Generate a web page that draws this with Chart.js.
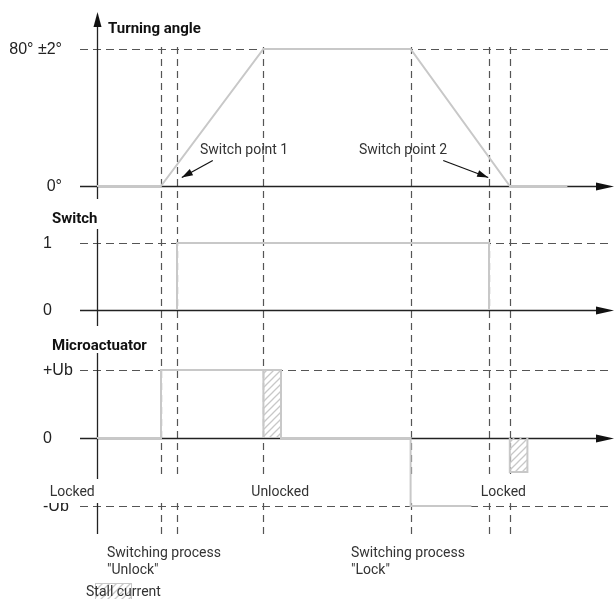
<!DOCTYPE html>
<html lang="en">
<head>
    <meta charset="UTF-8">
    <title>Turning angle / Switch / Microactuator timing</title>
    <script src="https://cdn.jsdelivr.net/npm/chart.js"></script>
    <style>
        body {
            margin: 0;
            background: #fff;
        }
        .container {
            width: 616px;
            height: 599px;
        }
    </style>
</head>
<body>

<div class="container">
    <canvas id="myChart"></canvas>
</div>

<script>
    // time axis (arbitrary units), dashed event lines
    const eventTimes = [4, 5, 10.4, 19.6, 24.5, 25.8];

    // Turning angle in degrees
    const angleTime = [0, 4, 10.4, 19.6, 25.8, 29.4];
    const angleDeg = [0, 0, 80, 80, 0, 0];
    const angleTicks = [0, 80];
    const angleTickLabels = ['0°', '80° ±2°'];

    // Switch state
    const switchTime = [5, 5, 24.5, 24.5];
    const switchState = [0, 1, 1, 0];
    const switchTicks = [0, 1];
    const switchTickLabels = ['0', '1'];

    // Microactuator voltage (in Ub)
    const actuatorTime = [0, 4, 4, 11.5, 11.5, 19.6, 19.6, 23.4];
    const actuatorVolt = [0, 0, 1, 1, 0, 0, -1, -1];
    const actuatorTicks = [-1, 0, 1];
    const actuatorTickLabels = ['-Ub', '0', '+Ub'];

    // stall current blocks
    const stallStart = [10.4, 25.8];
    const stallEnd = [11.5, 26.9];
    const stallLevel = [1, -0.5];

    const panelTitles = ['Turning angle', 'Switch', 'Microactuator'];
    const stateLabels = ['Locked', 'Unlocked', 'Locked'];
    const stateTimes = [-1.55, 11.45, 25.4];

    const H = 599;
    const W = 616;
    const SIGNAL = '#c8c8c8';
    const DASH = '#555';

    // maps two value/pixel pairs onto a full-height linear scale
    function fit(v0, p0, v1, p1) {
        const k = (p0 - p1) / (v1 - v0);
        const max = v1 + p1 / k;
        return { min: max - H / k, max: max };
    }

    function pts(xs, ys) {
        return xs.map((x, i) => ({ x: x, y: ys[i] }));
    }

    function hatchPattern() {
        const c = document.createElement('canvas');
        c.width = 7; c.height = 7;
        const g = c.getContext('2d');
        g.strokeStyle = SIGNAL;
        g.lineWidth = 1.3;
        g.beginPath();
        g.moveTo(-1, 8); g.lineTo(8, -1);
        g.moveTo(-1, 1); g.lineTo(1, -1);
        g.moveTo(6, 8); g.lineTo(8, 6);
        g.stroke();
        return g.createPattern(c, 'repeat');
    }
    const hatch = hatchPattern();

    function arrowHead(ctx, x, y, angle, len, half) {
        ctx.save();
        ctx.translate(x, y);
        ctx.rotate(angle);
        ctx.beginPath();
        ctx.moveTo(0, 0);
        ctx.lineTo(-len, -half);
        ctx.lineTo(-len, half);
        ctx.closePath();
        ctx.fill();
        ctx.restore();
    }

    function pointer(ctx, x0, y0, x1, y1) {
        ctx.beginPath();
        ctx.moveTo(x0, y0);
        ctx.lineTo(x1, y1);
        ctx.stroke();
        arrowHead(ctx, x1, y1, Math.atan2(y1 - y0, x1 - x0), 11, 3.5);
    }

    const diagram = {
        id: 'diagram',
        beforeDatasetsDraw(chart) {
            const ctx = chart.ctx;
            const s = chart.scales;
            const x0 = s.x.getPixelForValue(0);
            const left = x0 - 17;
            const right = W - 8;
            const tip = W - 2;
            const panels = [
                { sc: s.yA, ticks: angleTicks, labels: angleTickLabels, align: 'right', lx: 62 },
                { sc: s.yS, ticks: switchTicks, labels: switchTickLabels, align: 'left', lx: 43 },
                { sc: s.yM, ticks: actuatorTicks, labels: actuatorTickLabels, align: 'left', lx: 43 }
            ];
            ctx.save();

            // dashed reference levels
            ctx.strokeStyle = DASH;
            ctx.lineWidth = 1.2;
            ctx.setLineDash([8, 5]);
            panels.forEach(p => {
                p.ticks.forEach(v => {
                    if (v === 0) return;
                    const y = Math.round(p.sc.getPixelForValue(v)) + 0.5;
                    ctx.beginPath();
                    ctx.moveTo(left, y);
                    ctx.lineTo(right, y);
                    ctx.stroke();
                });
            });

            // dashed event lines
            const top = s.yA.getPixelForValue(80) - 2;
            const bottom = s.yM.getPixelForValue(-1) + 31;
            ctx.setLineDash([7, 5]);
            eventTimes.forEach(t => {
                const x = Math.round(s.x.getPixelForValue(t)) + 0.5;
                ctx.beginPath();
                ctx.moveTo(x, top);
                ctx.lineTo(x, bottom);
                ctx.stroke();
            });
            ctx.setLineDash([]);

            // axes
            ctx.strokeStyle = '#222';
            ctx.fillStyle = '#111';
            ctx.lineWidth = 1.3;
            panels.forEach(p => {
                const y = Math.round(p.sc.getPixelForValue(0)) + 0.5;
                ctx.beginPath();
                ctx.moveTo(left, y);
                ctx.lineTo(tip - 10, y);
                ctx.stroke();
                arrowHead(ctx, tip, y, 0, 18, 4);
            });
            const ax = Math.round(x0) + 0.5;
            ctx.beginPath();
            ctx.moveTo(ax, 24);
            ctx.lineTo(ax, bottom - 3);
            ctx.stroke();
            arrowHead(ctx, ax, 12, -Math.PI / 2, 15, 4);

            // tick labels
            ctx.fillStyle = '#222';
            ctx.font = '16px "Liberation Sans", Arial, sans-serif';
            ctx.textBaseline = 'middle';
            panels.forEach(p => {
                ctx.textAlign = p.align;
                p.ticks.forEach((v, i) => {
                    ctx.fillText(p.labels[i], p.lx, p.sc.getPixelForValue(v) + 1);
                });
            });

            // white cut-outs under titles and state band
            ctx.fillStyle = '#fff';
            ctx.fillRect(45, s.yA.getPixelForValue(0) + 13, 60, 30);
            ctx.fillRect(45, s.yS.getPixelForValue(0) + 16, 108, 27);
            ctx.fillRect(0, s.yM.getPixelForValue(-1) - 27, W, 24);

            // panel titles
            ctx.fillStyle = '#111';
            ctx.font = 'bold 15px Roboto, sans-serif';
            ctx.textAlign = 'left';
            ctx.fillText(panelTitles[0], 108, 29);
            ctx.fillText(panelTitles[1], 52, 219);
            ctx.fillText(panelTitles[2], 52, 346);

            // lock state labels
            ctx.fillStyle = '#333';
            ctx.font = '14px Roboto, sans-serif';
            ctx.textAlign = 'center';
            const ly = s.yM.getPixelForValue(-1) - 14;
            stateLabels.forEach((txt, i) => {
                ctx.fillText(txt, s.x.getPixelForValue(stateTimes[i]), ly);
            });
            ctx.restore();
        },
        afterDatasetsDraw(chart) {
            const ctx = chart.ctx;
            const s = chart.scales;
            ctx.save();
            ctx.strokeStyle = '#111';
            ctx.fillStyle = '#111';
            ctx.lineWidth = 1.2;

            // switch point pointers
            const p1x = s.x.getPixelForValue(5.3), p1y = s.yA.getPixelForValue(5);
            const p2x = s.x.getPixelForValue(24.45), p2y = s.yA.getPixelForValue(5);
            pointer(ctx, p1x + 31, p1y - 17, p1x, p1y);
            pointer(ctx, p2x - 45, p2y - 17, p2x, p2y);

            ctx.fillStyle = '#333';
            ctx.font = '14px Roboto, sans-serif';
            ctx.textBaseline = 'middle';
            ctx.textAlign = 'left';
            ctx.fillText('Switch point 1', 200, 150);
            ctx.fillText('Switch point 2', 359, 150);

            // switching processes
            ctx.fillText('Switching process', 107, 553);
            ctx.fillText('"Unlock"', 107, 570);
            ctx.fillText('Switching process', 351, 553);
            ctx.fillText('"Lock"', 351, 570);

            // stall current key
            ctx.fillStyle = hatch;
            ctx.fillRect(95, 583, 37, 17);
            ctx.strokeStyle = SIGNAL;
            ctx.lineWidth = 1;
            ctx.strokeRect(95.5, 583.5, 36, 17);
            ctx.fillStyle = '#333';
            ctx.fillText('Stall current', 86, 592);
            ctx.restore();
        }
    };

    const signal = {
        showLine: true,
        borderColor: SIGNAL,
        borderWidth: 2,
        pointRadius: 0,
        tension: 0,
        fill: false
    };

    const datasets = [
        Object.assign({ label: 'Turning angle', data: pts(angleTime, angleDeg), yAxisID: 'yA' }, signal),
        Object.assign({ label: 'Switch', data: pts(switchTime, switchState), yAxisID: 'yS' }, signal),
        Object.assign({ label: 'Microactuator', data: pts(actuatorTime, actuatorVolt), yAxisID: 'yM' }, signal)
    ];
    stallStart.forEach((t0, i) => {
        const t1 = stallEnd[i];
        const v = stallLevel[i];
        datasets.push(Object.assign({}, signal, {
            label: 'Stall current',
            data: pts([t0, t0, t1, t1], [0, v, v, 0]),
            yAxisID: 'yM',
            fill: { value: 0 },
            backgroundColor: hatch
        }));
    });

    const rA = fit(0, 186, 80, 49);
    const rS = fit(0, 310, 1, 243);
    const rM = fit(0, 438, 1, 370);

    const ctx = document.getElementById('myChart').getContext('2d');
    const chart = new Chart(ctx, {
        type: 'scatter',
        data: { datasets: datasets },
        options: {
            responsive: true,
            maintainAspectRatio: false,
            animation: false,
            events: [],
            layout: { padding: 0 },
            plugins: {
                legend: { display: false },
                tooltip: { enabled: false }
            },
            scales: {
                x: { type: 'linear', display: false, min: -97 / 16, max: (W - 97) / 16 },
                yA: { type: 'linear', display: false, min: rA.min, max: rA.max },
                yS: { type: 'linear', display: false, min: rS.min, max: rS.max },
                yM: { type: 'linear', display: false, min: rM.min, max: rM.max }
            }
        },
        plugins: [diagram]
    });
</script>

</body>
</html>
